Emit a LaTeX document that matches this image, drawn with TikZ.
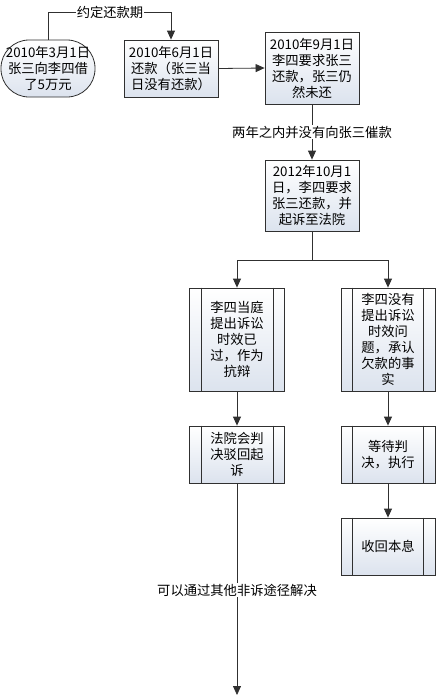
\documentclass[tikz,border=0pt]{standalone}
\usepackage{fontspec}
\newfontfamily\cjk{Noto Sans CJK SC}
\usetikzlibrary{arrows.meta}
\definecolor{ln}{HTML}{303030}
\definecolor{boxb}{HTML}{DCE3EE}
\begin{document}
\begin{tikzpicture}[x=1pt,y=-1pt,
  txt/.style={font=\cjk\fontsize{13.3}{16}\selectfont},
  box/.style={txt, draw=ln, line width=0.8pt, top color=white, bottom color=boxb,
    minimum width=94pt, inner sep=0pt, align=center},
  arr/.style={draw=ln, line width=0.8pt, -{Triangle[length=9pt,width=8pt]}},
  conn/.style={draw=ln, line width=0.8pt},
  lab/.style={txt, fill=white, inner sep=1pt}]
\useasboundingbox (0,0) rectangle (436,697);
\fill[white] (0,0) rectangle (436,697);

% nodes
\node[box, minimum height=57pt, rounded corners=28pt] (s1) at (48,68.5)
  {2010年3月1日\\张三向李四借\\了5万元};
\node[box, minimum height=57pt] (b2) at (171,68.5)
  {2010年6月1日\\还款（张三当\\日没有还款）};
\node[box, minimum height=72pt] (b3) at (312,68)
  {2010年9月1日\\李四要求张三\\还款，张三仍\\然未还};
\node[box, minimum height=71pt] (b4) at (312,195.5)
  {2012年10月1\\日，李四要求\\张三还款，并\\起诉至法院};
\node[box, minimum height=103pt, minimum width=95pt] (b5) at (237,339.5)
  {李四当庭\\提出诉讼\\时效已\\过，作为\\抗辩};
\node[box, minimum height=103pt] (b6) at (388,339.5)
  {李四没有\\提出诉讼\\时效问\\题，承认\\欠款的事\\实};
\node[box, minimum height=57pt, minimum width=95pt] (b7) at (237,454.5)
  {法院会判\\决驳回起\\诉};
\node[box, minimum height=57pt] (b8) at (388,454.5)
  {等待判\\决，执行};
\node[box, minimum height=57pt] (b9) at (388,546.5)
  {收回本息};

% inner lines of predefined-process boxes
\foreach \n in {b5,b6,b7,b8,b9}{
  \draw[conn] ([xshift=12pt]\n.north west) -- ([xshift=12pt]\n.south west);
  \draw[conn] ([xshift=-12pt]\n.north east) -- ([xshift=-12pt]\n.south east);
}

% connectors
\coordinate (top) at (48,12);
\draw[arr] (s1.north) -- (top) -| (b2.north);
\node[lab] (l1) at (110,12) {约定还款期};

\draw[arr] (b2.east) -- (b3.west);

\draw[arr] (b3.south) -- (b4.north);
\node[lab] (l2) at (312,132) {两年之内并没有向张三催款};

\coordinate (split) at (312,260);
\draw[conn] (b4.south) -- (split);
\draw[arr] (split) -| (b5.north);
\draw[arr] (split) -| (b6.north);

\draw[arr] (b5.south) -- (b7.north);
\draw[arr] (b6.south) -- (b8.north);
\draw[arr] (b8.south) -- (b9.north);

\coordinate (end) at (237,695);
\draw[arr] (b7.south) -- (end);
\node[lab] (l3) at (237,590) {可以通过其他非诉途径解决};
\end{tikzpicture}
\end{document}
